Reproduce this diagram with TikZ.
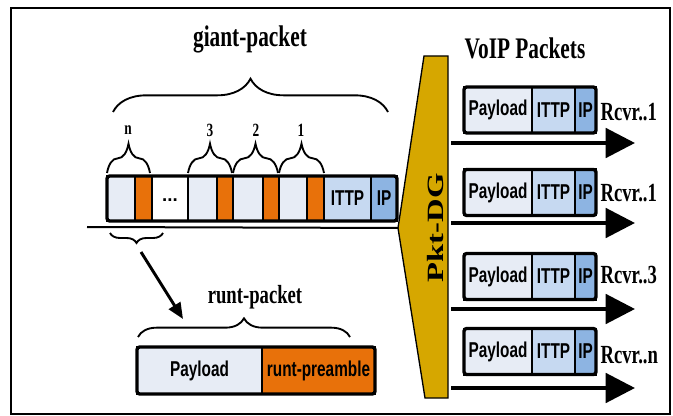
\documentclass[tikz,border=0pt]{standalone}
\usepackage{fontspec}
\setmainfont{Liberation Serif}
\setsansfont{Liberation Sans}
\usetikzlibrary{arrows.meta,decorations.pathreplacing}
\newdimen\px \px=0.75pt
\newcommand{\tallt}[1]{\scalebox{1}[1.4]{#1}}
\definecolor{cellgray}{HTML}{E7ECF5}
\definecolor{preorange}{HTML}{E8710A}
\definecolor{ittpblue}{HTML}{C6D9F1}
\definecolor{ipblue}{HTML}{8DB4E2}
\definecolor{dggold}{HTML}{D6A700}
\tikzset{
  cell/.style={draw, line width=1.5pt, inner sep=0pt, outer sep=0pt, anchor=west,
    minimum height=45*\px, font=\sffamily\bfseries\fontsize{11.5}{12}\selectfont},
  light/.style={cell, fill=cellgray},
  runt/.style={cell, fill=preorange},
  ittp/.style={cell, fill=ittpblue},
  ipc/.style={cell, fill=ipblue},
  pktframe/.style={line width=2.5pt, rounded corners=2pt},
  curly/.style={decorate, decoration={brace, amplitude=#1}, line width=1.4pt},
  title/.style={font=\bfseries\fontsize{16}{16}\selectfont},
  small/.style={font=\bfseries\fontsize{10}{10}\selectfont},
  rcvr/.style={font=\bfseries\fontsize{14}{14}\selectfont, anchor=west, inner sep=1pt},
  fat/.style={line width=3pt, -{Triangle[length=22pt,width=22pt]}}
}
\begin{document}
\begin{tikzpicture}[x=0.75pt,y=-0.75pt]
\useasboundingbox (0,0) rectangle (673,416);
\draw[line width=1.2pt] (11,8) rectangle (670,414);

% giant packet
\node[light, minimum width=28*\px] (pn) at (107,198.5) {};
\node[runt, minimum width=17*\px] (rn) at (135,198.5) {};
\node[cell, fill=white, minimum width=36*\px, font=\sffamily\bfseries\fontsize{14}{14}\selectfont] (dots) at (152,198.5) {\raisebox{-4pt}{...}};
\node[light, minimum width=29*\px] (p3) at (188,198.5) {};
\node[runt, minimum width=16*\px] (r3) at (217,198.5) {};
\node[light, minimum width=30*\px] (p2) at (233,198.5) {};
\node[runt, minimum width=16*\px] (r2) at (263,198.5) {};
\node[light, minimum width=28*\px] (p1) at (279,198.5) {};
\node[runt, minimum width=17*\px] (r1) at (307,198.5) {};
\node[ittp, minimum width=47*\px] (gittp) at (324,198.5) {\tallt{ITTP}};
\node[ipc, minimum width=26*\px] (gip) at (371,198.5) {\tallt{IP}};
\draw[pktframe] (pn.north west) rectangle (gip.south east);

\node[title] (giant) at (250,39) {\tallt{giant-packet}};
\draw[curly=25pt] (113,112) -- (388,112);
\draw[curly=22pt] (107,173) -- (150,173);
\draw[curly=22pt] (188,173) -- (232,173);
\draw[curly=22pt] (233,173) -- (278,173);
\draw[curly=22pt] (279,173) -- (324,173);
\node[small] (ln) at (128,130) {\tallt{n}};
\node[small] (l3) at (210,130) {\tallt{3}};
\node[small] (l2) at (256,130) {\tallt{2}};
\node[small] (l1) at (301,130) {\tallt{1}};

% runt packet
\draw[curly=7.5pt] (163,233) -- (110,233);
\coordinate (cut) at (141,252);
\coordinate (drop) at (183,319);
\draw[line width=2.2pt, -{Triangle[length=12pt,width=10pt]}] (cut) -- (drop);
\node[title, font=\bfseries\fontsize{14}{14}\selectfont] (runtlbl) at (255,297) {\tallt{runt-packet}};
\draw[curly=14pt] (138,337) -- (350,337);
\node[light, minimum width=125*\px, minimum height=47*\px] (rpay) at (137,370.5) {\tallt{Payload}};
\node[runt, minimum width=113*\px, minimum height=47*\px] (rpre) at (262,370.5) {\tallt{runt-preamble}};
\draw[pktframe] (rpay.north west) rectangle (rpre.south east);

% packet distributor
\coordinate (base) at (87,227);
\coordinate (dgtip) at (398,228);
\draw[line width=1.5pt] (base) -- (dgtip);
\draw[fill=dggold, line width=1pt] (424,56) -- (448,56) -- (448,398) -- (425,398) -- (dgtip) -- cycle;
\node[font=\bfseries\fontsize{17.5}{17.5}\selectfont] (dg) at (436,228) {\rotatebox{90}{\scalebox{1.4}[1]{Pkt-DG}}};

% voip packets
\node[title] (voip) at (525,48) {\tallt{VoIP Packets}};

\node[light, minimum width=68*\px, minimum height=46*\px] (pay1) at (464,110) {\tallt{Payload}};
\node[ittp, minimum width=43*\px, minimum height=46*\px] (itp1) at (532,110) {\tallt{ITTP}};
\node[ipc, minimum width=21*\px, minimum height=46*\px] (ipa1) at (575,110) {\tallt{IP}};
\draw[pktframe] (pay1.north west) rectangle (ipa1.south east);
\node[rcvr] (rc1) at (599,112) {\tallt{Rcvr..1}};

\node[light, minimum width=68*\px, minimum height=46*\px] (pay2) at (464,192.5) {\tallt{Payload}};
\node[ittp, minimum width=43*\px, minimum height=46*\px] (itp2) at (532,192.5) {\tallt{ITTP}};
\node[ipc, minimum width=21*\px, minimum height=46*\px] (ipa2) at (575,192.5) {\tallt{IP}};
\draw[pktframe] (pay2.north west) rectangle (ipa2.south east);
\node[rcvr] (rc2) at (599,193) {\tallt{Rcvr..1}};

\node[light, minimum width=68*\px, minimum height=46*\px] (pay3) at (464,276.5) {\tallt{Payload}};
\node[ittp, minimum width=43*\px, minimum height=46*\px] (itp3) at (532,276.5) {\tallt{ITTP}};
\node[ipc, minimum width=21*\px, minimum height=46*\px] (ipa3) at (575,276.5) {\tallt{IP}};
\draw[pktframe] (pay3.north west) rectangle (ipa3.south east);
\node[rcvr] (rc3) at (599,275) {\tallt{Rcvr..3}};

\node[light, minimum width=68*\px, minimum height=46*\px] (pay4) at (464,351.5) {\tallt{Payload}};
\node[ittp, minimum width=43*\px, minimum height=46*\px] (itp4) at (532,351.5) {\tallt{ITTP}};
\node[ipc, minimum width=21*\px, minimum height=46*\px] (ipa4) at (575,351.5) {\tallt{IP}};
\draw[pktframe] (pay4.north west) rectangle (ipa4.south east);
\node[rcvr] (rc4) at (599,355) {\tallt{Rcvr..n}};

\coordinate (out1) at (451,143); \coordinate (in1) at (635,143);
\coordinate (out2) at (451,223); \coordinate (in2) at (635,223);
\coordinate (out3) at (451,309); \coordinate (in3) at (635,309);
\coordinate (out4) at (451,388); \coordinate (in4) at (635,388);
\draw[fat] (out1) -- (in1);
\draw[fat] (out2) -- (in2);
\draw[fat] (out3) -- (in3);
\draw[fat] (out4) -- (in4);
\end{tikzpicture}
\end{document}
